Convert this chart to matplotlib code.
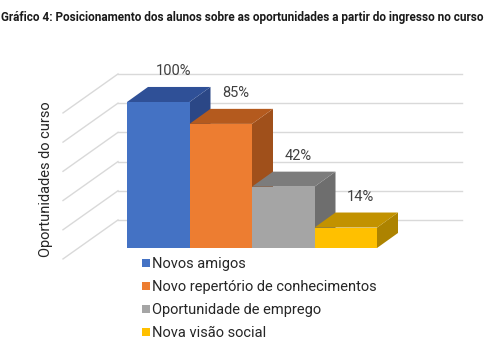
import matplotlib
matplotlib.use('Agg')
import matplotlib.pyplot as plt
from matplotlib.patches import Polygon, Patch

# dados do gráfico
categorias = ['Novos amigos', 'Novo repertório de conhecimentos',
              'Oportunidade de emprego', 'Nova visão social']
valores = [100, 85, 42, 14]
rotulos = ['100%', '85%', '42%', '14%']
grade = [20, 40, 60, 80, 100, 120]

cores_frente = ['#4472C4', '#ED7D31', '#A5A5A5', '#FFC000']
cores_topo = ['#2F5097', '#B45A1E', '#7C7C7C', '#C29200']
cores_lado = ['#2B4786', '#A0501B', '#6E6E6E', '#AD8300']

titulo = 'Gráfico 4: Posicionamento dos alunos sobre as oportunidades a partir do ingresso no curso'
eixo_y = 'Oportunidades do curso'

plt.rcParams['font.family'] = ['Roboto', 'DejaVu Sans']

W, H = 496, 353
fig = plt.figure(figsize=(W / 100, H / 100), dpi=100)
ax = fig.add_axes([0, 0, 1, 1])
# escala: 1 categoria = 62.5 px, 1% = 1.46 px
ax.set_xlim(-2.532, 5.404)
ax.set_ylim(-71.92, 169.86)
ax.axis('off')

# profundidade 3D (em unidades de dados)
dx, dy = 0.336, 10.3

# paredes com linhas de grade
parede_x0, parede_x1 = -0.644, 4.86
lateral_dx, lateral_dy = -0.88, -26.7
for g in grade:
    gy = g - 0.8
    ax.plot([parede_x0, parede_x1], [gy, gy], color='#D9D9D9', lw=1, zorder=1)
    ax.plot([parede_x0 + lateral_dx, parede_x0], [gy + lateral_dy, gy],
            color='#D9D9D9', lw=1, zorder=1)

# barras 3D
xs = list(range(len(valores)))
for i, (x, v) in enumerate(zip(xs, valores)):
    z = 3 + 3 * i
    lado = Polygon([(x + 0.5, 0), (x + 0.5 + dx, dy), (x + 0.5 + dx, v + dy), (x + 0.5, v)],
                   closed=True, facecolor=cores_lado[i], edgecolor='none', zorder=z)
    topo = Polygon([(x - 0.5, v), (x - 0.5 + dx, v + dy), (x + 0.5 + dx, v + dy), (x + 0.5, v)],
                   closed=True, facecolor=cores_topo[i], edgecolor='none', zorder=z + 1)
    ax.add_patch(lado)
    ax.add_patch(topo)
    ax.bar(x, v, width=1.0, color=cores_frente[i], zorder=z + 2)
    ax.text(x + 0.24, v + 21, rotulos[i], ha='center', va='center',
            fontsize=10.5, color='#404040', zorder=20)

# textos
fig.text(0.002, 1 - 18 / H, titulo, ha='left', va='center', fontsize=8.45,
         fontweight='bold', color='#1a1a1a',
         family=['Liberation Sans Narrow', 'Roboto', 'DejaVu Sans'])
fig.text(46 / W, 1 - 179 / H, eixo_y, rotation=90, ha='center', va='center',
         fontsize=10.5, color='#262626')

handles = [Patch(facecolor=c, edgecolor='none', label=l)
           for c, l in zip(cores_frente, categorias)]
fig.legend(handles=handles, loc='upper left', bbox_to_anchor=(142 / W, 1 - 257 / H),
           frameon=False, fontsize=10.5, handlelength=0.52, handleheight=0.52,
           handletextpad=0.2, labelspacing=0.62, borderpad=0, borderaxespad=0,
           labelcolor='#262626')

plt.savefig('out.png', dpi=100)
